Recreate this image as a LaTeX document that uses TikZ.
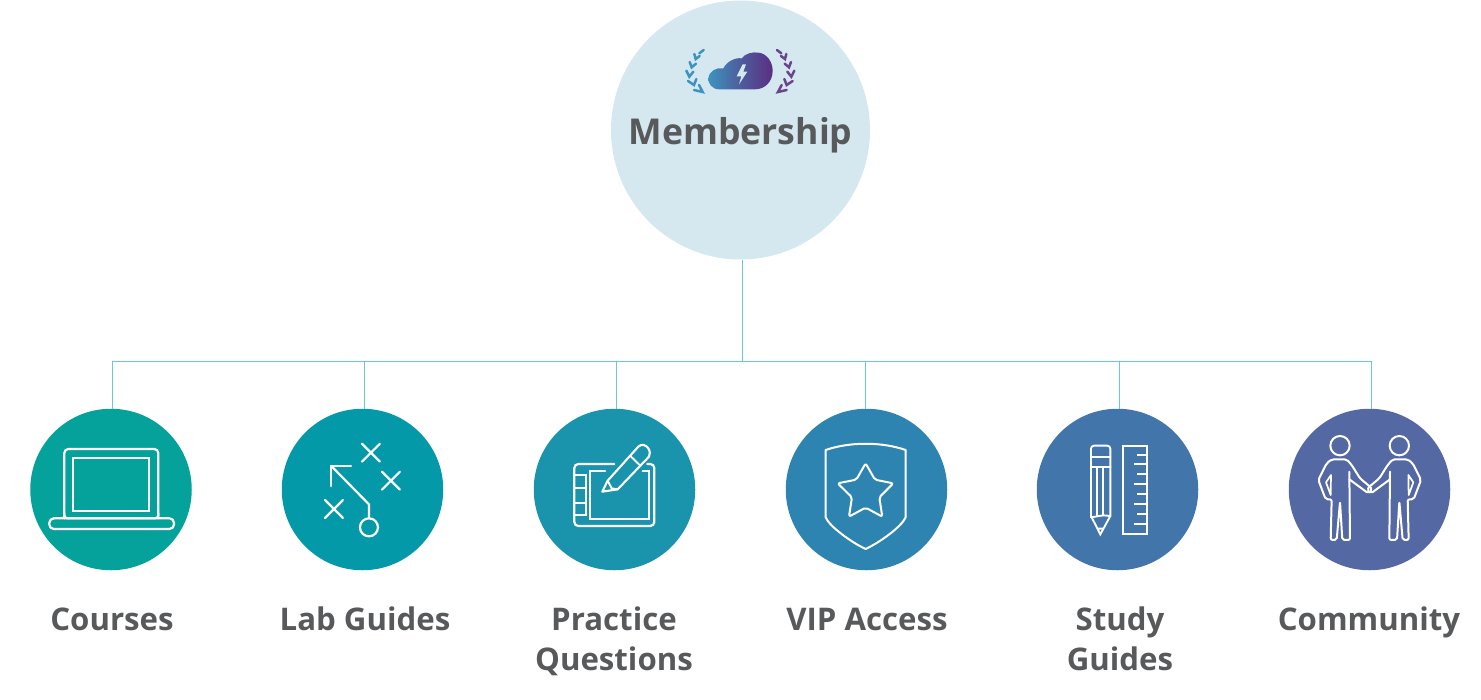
\documentclass[tikz,border=0pt]{standalone}
\usepackage{fontspec}
\setmainfont{Open Sans}
\usetikzlibrary{calc}
\definecolor{topfill}{HTML}{D5E8F0}
\definecolor{linkcol}{HTML}{66CCCC}
\definecolor{txtcol}{HTML}{58595B}
\definecolor{ca}{HTML}{05A29B}
\definecolor{cb}{HTML}{0499A9}
\definecolor{cc}{HTML}{1A93AD}
\definecolor{cd}{HTML}{2E84B0}
\definecolor{ce}{HTML}{4275A9}
\definecolor{cf}{HTML}{5468A4}
\definecolor{logoa}{HTML}{3E93BE}
\definecolor{logob}{HTML}{5A2F82}
\tikzset{
  bubble/.style={circle,inner sep=0pt,minimum size=161.5pt,draw=none,fill=#1},
  toplabel/.style={anchor=base,text=txtcol,font=\fontsize{35.6}{40}\selectfont\bfseries},
  sublabel/.style={anchor=base,text=txtcol,align=center,font=\fontsize{31.2}{40}\selectfont\bfseries},
  link/.style={draw=linkcol,line width=1pt},
  ico/.style={draw=white,line width=#1,line join=round,line cap=round},
  ico/.default=2.2pt,
  leaf/.style={draw=#1,line width=2.5pt,line cap=round,line join=miter}
}
\newcommand{\personicon}{%
  \draw[ico=2pt,rounded corners=2pt] (180,170) -- (150,145) -- (125,105) -- (110,88) -- (65,88) -- (50,100) -- (25,150) -- (47,208) -- (65,208) -- (62,330) -- (80,330) -- (90,215) -- (97,330) -- (120,330) -- (118,125);
  \draw[ico=2pt,rounded corners=2pt] (118,148) -- (175,190) -- (187,180) -- (180,170);
  \draw[ico=1.7pt] (63,135) -- (48,157) -- (62,195) -- cycle;
  \draw[ico=2pt] (90,47) circle (29);
}
\newcommand{\laurelicon}[1]{%
  \draw[leaf=#1] (101,60) -- (88,70);
  \draw[leaf=#1] (73,72) -- (77,87) -- (89,78);
  \draw[leaf=#1] (59,96) -- (65,112) -- (78,101);
  \draw[leaf=#1] (49,122) -- (58,140) -- (70,125);
  \draw[leaf=#1] (54,153) -- (72,165) -- (79,147);
  \draw[leaf=#1] (72,180) -- (98,186) -- (87,165);
}
\begin{document}
\begin{tikzpicture}[x=1pt,y=-1pt]
\useasboundingbox (0,0) rectangle (1481,699);
% circles
\node[circle,inner sep=0pt,minimum size=259pt,fill=topfill] (m) at (740.5,130) {};
\node[bubble=ca] (c1) at (111,489.5) {};
\node[bubble=cb] (c2) at (362.5,489.5) {};
\node[bubble=cc] (c3) at (614.5,489.5) {};
\node[bubble=cd] (c4) at (866.5,489.5) {};
\node[bubble=ce] (c5) at (1117.5,489.5) {};
\node[bubble=cf] (c6) at (1369.5,489.5) {};
% connectors
\coordinate (hub) at (742.3,361);
\coordinate (b1) at (112.5,361);
\coordinate (b2) at (364.3,361);
\coordinate (b3) at (616.3,361);
\coordinate (b4) at (865.8,361);
\coordinate (b5) at (1119.5,361);
\coordinate (b6) at (1371,361);
\draw[link] (m.south -| hub) -- (hub);
\draw[link] (b1) -- (b6);
\draw[link] (b1) -- (c1.north -| b1);
\draw[link] (b2) -- (c2.north -| b2);
\draw[link] (b3) -- (c3.north -| b3);
\draw[link] (b4) -- (c4.north -| b4);
\draw[link] (b5) -- (c5.north -| b5);
\draw[link] (b6) -- (c6.north -| b6);
% labels
\node[toplabel] (tm) at (740.5,144) {Membership};
\node[sublabel] (t1) at (112,630) {Courses};
\node[sublabel] (t2) at (365,630) {Lab Guides};
\node[sublabel] (t3) at (614,670) {Practice\\Questions};
\node[sublabel] (t4) at (867,630) {VIP Access};
\node[sublabel] (t5) at (1120,670) {Study\\Guides};
\node[sublabel] (t6) at (1369,630) {Community};
% logo
\begin{scope}[shift={(670,30)},x=0.3333pt,y=-0.3333pt]
  \laurelicon{logoa}
  \begin{scope}[shift={(422,0)},x=-0.3333pt]
    \laurelicon{logob!90!white}
  \end{scope}
  \path[left color=logoa,right color=logob,middle color=logob!55!logoa] (148,178) .. controls (125,178) and (115,160) .. (115,147) .. controls (115,125) and (140,110) .. (160,115) .. controls (170,95) and (195,82) .. (215,85) .. controls (225,70) and (250,65) .. (265,68) .. controls (290,70) and (308,95) .. (308,122) .. controls (308,155) and (285,178) .. (255,178) -- cycle;
  \fill[topfill] (218,103) -- (228,103) -- (220,125) -- (232,125) -- (207,163) -- (214,139) -- (200,139) -- cycle;
\end{scope}
% laptop
\begin{scope}[shift={(30,410)},x=0.3333pt,y=-0.3333pt]
  \draw[ico,rounded corners=4pt] (103,325) -- (103,117) -- (385,117) -- (385,325);
  \draw[ico,rounded corners=3pt] (103,310) -- (103,325) -- (385,325) -- (385,310);
  \draw[ico=2.2pt,line join=miter] (129,143) rectangle (358,302);
  \draw[ico,rounded corners=4.5pt] (58,325) rectangle (432,357);
\end{scope}
% tactic board
\begin{scope}[shift={(30,410)},x=0.3333pt,y=-0.3333pt]
  \draw[ico] (996,101) -- (1050,155) (1050,101) -- (996,155);
  \draw[ico] (1056,185) -- (1110,239) (1110,185) -- (1056,239);
  \draw[ico] (885,270) -- (939,324) (939,270) -- (885,324);
  \draw[ico,line join=miter] (903,228) -- (903,167) -- (963,167);
  \draw[ico,line cap=butt] (903,167) -- (1017,283) -- (1017,325);
  \draw[ico] (1017,352) circle (27);
\end{scope}
% tablet
\begin{scope}[shift={(570,440)},x=0.3333pt,y=-0.3333pt]
  \draw[ico,rounded corners=4pt] (133,72) -- (13,72) -- (13,258) -- (253,258) -- (253,72) -- (232,72);
  \draw[ico,line join=miter] (105,92) -- (60,92) -- (60,237) -- (238,237) -- (238,92) -- (218,92);
  \draw[ico=2pt,line join=miter] (13,105) -- (48,105) -- (48,225) -- (13,225) (13,145) -- (48,145) (13,188) -- (48,188);
  \draw[ico=2.1pt] (113,122) -- (205,20) .. controls (215,10) and (228,15) .. (235,25) .. controls (241,35) and (240,42) .. (237,50) -- (143,148) -- (97,155) -- cycle;
  \draw[ico=1.9pt] (113,122) -- (125,145) -- (143,148);
  \draw[ico=1.9pt] (180,47) -- (210,76);
\end{scope}
% shield
\begin{scope}[shift={(530,410)},x=0.3333pt,y=-0.3333pt]
  \draw[ico=2pt] (887,120) .. controls (960,95) and (1055,95) .. (1127,120) -- (1127,322) .. controls (1115,350) and (1050,397) .. (1007,417) .. controls (964,397) and (899,350) .. (887,322) -- cycle;
  \draw[ico=2pt,rounded corners=2pt] (1007,160) -- (1035,209) -- (1090,220) -- (1048,262) -- (1057,320) -- (1007,293) -- (957,320) -- (966,262) -- (923,220) -- (979,209) -- cycle;
\end{scope}
% pencil and ruler
\begin{scope}[shift={(1030,410)},x=0.3333pt,y=-0.3333pt]
  \draw[ico=1.9pt,rounded corners=3pt] (183,318) -- (183,107) -- (241,107) -- (241,318);
  \draw[ico=1.9pt,line join=miter] (183,318) -- (211,373) -- (241,318);
  \draw[ico=1.9pt] (183,142) -- (241,142) (183,172) -- (241,172) (202,172) -- (202,316) (220,172) -- (220,316);
  \draw[ico=1.9pt] (183,322) -- (220,316) -- (241,318) (204,356) -- (218,356);
  \draw[ico=2pt,line join=miter] (278,107) rectangle (352,372);
  \draw[ico=1.8pt,line cap=butt] (352,135) -- (322,135) (352,163) -- (312,163) (352,193) -- (322,193) (352,223) -- (312,223) (352,253) -- (322,253) (352,283) -- (312,283) (352,313) -- (322,313) (352,343) -- (312,343);
\end{scope}
% people
\begin{scope}[shift={(1310,430)},x=0.3333pt,y=-0.3333pt]
  \personicon
\end{scope}
\begin{scope}[shift={(1429.33,430)},x=-0.3333pt,y=-0.3333pt]
  \personicon
\end{scope}
\end{tikzpicture}
\end{document}
